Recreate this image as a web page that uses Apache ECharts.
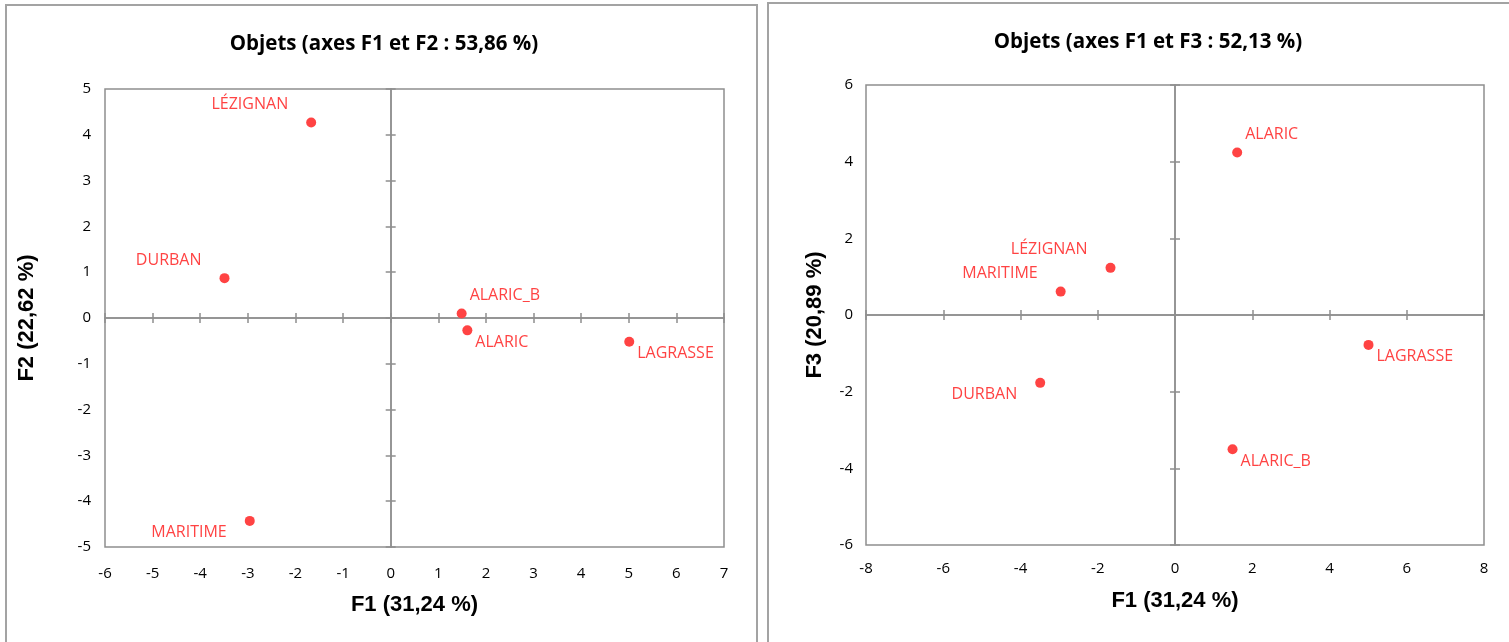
<!DOCTYPE html>
<html>
<head>
<meta charset="utf-8">
<script src="https://cdn.jsdelivr.net/npm/echarts@6/dist/echarts.min.js"></script>
<style>
html,body{margin:0;padding:0;background:#fff;}
#chart{width:1509px;height:642px;}
</style>
</head>
<body>
<div id="chart"></div>
<script>
// ---- data ----
const names = ['ALARIC', 'ALARIC_B', 'DURBAN', 'LAGRASSE', 'LÉZIGNAN', 'MARITIME'];
const f1 = [1.61, 1.49, -3.49, 5.01, -1.67, -2.96];
const f2 = [-0.27, 0.10, 0.87, -0.52, 4.27, -4.43];
const f3 = [4.24, -3.50, -1.77, -0.78, 1.23, 0.61];
const titles = ['Objets (axes F1 et F2 : 53,86 %)', 'Objets (axes F1 et F3 : 52,13 %)'];
const xNames = ['F1 (31,24 %)', 'F1 (31,24 %)'];
const yNames = ['F2 (22,62 %)', 'F3 (20,89 %)'];

// ---- label placement (style only) ----
const place1 = {ALARIC:'rb', ALARIC_B:'rt', DURBAN:'lt', LAGRASSE:'rb', 'LÉZIGNAN':'lt', MARITIME:'lb'};
const place2 = {ALARIC:'rt', ALARIC_B:'rb', DURBAN:'lb', LAGRASSE:'rb', 'LÉZIGNAN':'lt', MARITIME:'lt'};

const RED = '#ff4343';
const GRAY = '#8f8f8f';
const FONT = '"Open Sans", sans-serif';
const NAMEFONT = '"Liberation Sans Narrow", "Liberation Sans", sans-serif';

function labelFor(p) {
  const dy = p[1] === 't' ? -18 : 12;
  if (p[0] === 'l') return {position: 'left', distance: 0, offset: [-18, dy]};
  return {position: 'right', distance: 0, offset: [3, dy]};
}

const grids = [
  {left: 105, top: 89, width: 619, height: 458},
  {left: 866, top: 85, width: 618, height: 460}
];
const ranges = [
  {xmin: -6, xmax: 7, xint: 1, ymin: -5, ymax: 5, yint: 1, xm: 19, ym: 14, xg: 47, yg: 67},
  {xmin: -8, xmax: 8, xint: 2, ymin: -6, ymax: 6, yint: 2, xm: 16, ym: 13, xg: 45, yg: 40}
];

const xAxis = [], yAxis = [], series = [], title = [];
grids.forEach((g, gi) => {
  const r = ranges[gi];
  const base = {type: 'value', gridIndex: gi, splitLine: {show: false}};
  xAxis.push(Object.assign({}, base, {
    min: r.xmin, max: r.xmax, interval: r.xint, position: 'bottom',
    axisLine: {show: false, onZero: false}, axisTick: {show: false},
    axisLabel: {margin: r.xm, color: '#000', fontSize: 15, fontFamily: FONT},
    name: xNames[gi], nameLocation: 'middle', nameGap: r.xg,
    nameTextStyle: {fontSize: 22, fontWeight: 'bold', color: '#000', fontFamily: NAMEFONT}
  }));
  yAxis.push(Object.assign({}, base, {
    min: r.ymin, max: r.ymax, interval: r.yint, position: 'left',
    axisLine: {show: false, onZero: false}, axisTick: {show: false},
    axisLabel: {margin: r.ym, color: '#000', fontSize: 15, fontFamily: FONT},
    name: yNames[gi], nameLocation: 'middle', nameGap: r.yg,
    nameTextStyle: {fontSize: 22, fontWeight: 'bold', color: '#000', fontFamily: NAMEFONT}
  }));
  [true, false].forEach(inside => {
    xAxis.push(Object.assign({}, base, {
      min: r.xmin, max: r.xmax, interval: r.xint, position: 'bottom',
      axisLine: {show: true, onZero: true, lineStyle: {color: GRAY, width: 1.5}},
      axisTick: {show: true, inside: inside, length: 5, lineStyle: {color: GRAY, width: 1.5}},
      axisLabel: {show: false}
    }));
    yAxis.push(Object.assign({}, base, {
      min: r.ymin, max: r.ymax, interval: r.yint, position: 'left',
      axisLine: {show: true, onZero: true, lineStyle: {color: GRAY, width: 1.5}},
      axisTick: {show: true, inside: inside, length: 5, lineStyle: {color: GRAY, width: 1.5}},
      axisLabel: {show: false}
    }));
  });
  const yv = gi === 0 ? f2 : f3;
  const place = gi === 0 ? place1 : place2;
  series.push({
    type: 'scatter', xAxisIndex: gi * 3, yAxisIndex: gi * 3,
    symbol: 'circle', symbolSize: 10,
    itemStyle: {color: RED, opacity: 1},
    data: names.map((n, i) => ({
      name: n, value: [f1[i], yv[i]],
      label: Object.assign({show: true, formatter: '{b}', color: RED, fontSize: 16, fontFamily: FONT}, labelFor(place[n]))
    })),
    z: 10
  });
});

title.push({text: titles[0], left: 379, top: 29, textAlign: 'center',
  textStyle: {fontSize: 20.5, fontWeight: 'bold', color: '#000', fontFamily: FONT}});
title.push({text: titles[1], left: 1143, top: 27, textAlign: 'center',
  textStyle: {fontSize: 20.5, fontWeight: 'bold', color: '#000', fontFamily: FONT}});

const chart = echarts.init(document.getElementById('chart'), null, {renderer: 'canvas'});
chart.setOption({
  animation: false,
  backgroundColor: '#fff',
  title: title,
  grid: grids.map(g => Object.assign({show: true, borderColor: GRAY, borderWidth: 1.5, backgroundColor: 'transparent'}, g)),
  xAxis: xAxis,
  yAxis: yAxis,
  series: series,
  graphic: [
    {type: 'rect', shape: {x: 6, y: 5, width: 751, height: 700}, style: {fill: 'none', stroke: '#a3a3a3', lineWidth: 2}, silent: true},
    {type: 'rect', shape: {x: 768, y: 3, width: 800, height: 700}, style: {fill: 'none', stroke: '#a3a3a3', lineWidth: 2}, silent: true}
  ]
});
</script>
</body>
</html>
